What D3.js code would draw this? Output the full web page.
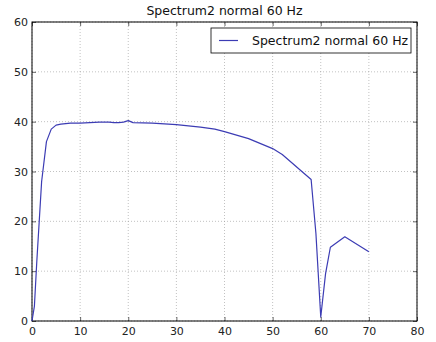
<!DOCTYPE html>
<html>
<head>
<meta charset="utf-8">
<script src="https://cdn.jsdelivr.net/npm/d3@7"></script>
<style>
  html, body { margin: 0; padding: 0; background: #fff; }
  svg { display: block; font-family: "DejaVu Sans", sans-serif; }
</style>
</head>
<body>
<svg id="chart" width="436" height="342"></svg>
<script>
// Spectrum data: frequency (Hz) and magnitude
const freq = [0, 0.5, 1, 2, 3, 4, 5, 6, 8, 10, 12, 14, 16, 17, 18, 19, 20, 21, 25, 30, 35, 38, 40, 45, 50, 52, 58, 59, 60, 61, 62, 65, 70];
const magnitude = [0, 3, 12, 28, 36, 38.5, 39.3, 39.5, 39.7, 39.7, 39.8, 39.9, 39.9, 39.8, 39.8, 39.9, 40.2, 39.8, 39.7, 39.4, 38.9, 38.5, 38.0, 36.6, 34.6, 33.4, 28.4, 17.5, 0.8, 9.5, 14.8, 16.9, 13.9];

const xTicks = [0, 10, 20, 30, 40, 50, 60, 70, 80];
const yTicks = [0, 10, 20, 30, 40, 50, 60];
const title = "Spectrum2 normal 60 Hz";
const seriesName = "Spectrum2 normal 60 Hz";

const margin = { left: 32, right: 19, top: 22, bottom: 21 };
const W = 436, H = 342;
const svg = d3.select("#chart");

const x = d3.scaleLinear().domain([0, 80]).range([margin.left, W - margin.right]);
const y = d3.scaleLinear().domain([0, 60]).range([H - margin.bottom, margin.top]);

const lineColor = "#3c3cb4";

// grid
const grid = svg.append("g");
grid.selectAll("line.gx").data(xTicks).join("line")
  .attr("x1", d => x(d)).attr("x2", d => x(d))
  .attr("y1", y(0)).attr("y2", y(60))
  .attr("stroke", "#999").attr("stroke-width", 0.6).attr("stroke-dasharray", "1,2");
grid.selectAll("line.gy").data(yTicks).join("line")
  .attr("y1", d => y(d)).attr("y2", d => y(d))
  .attr("x1", x(0)).attr("x2", x(80))
  .attr("stroke", "#999").attr("stroke-width", 0.6).attr("stroke-dasharray", "1,2");

// axes with inward ticks
const fmt = d3.format("d");
const xb = svg.append("g").attr("transform", `translate(0,${y(0)})`)
  .call(d3.axisBottom(x).tickValues(xTicks).tickFormat(fmt).tickSizeInner(-4).tickSizeOuter(0).tickPadding(6));
const xt = svg.append("g").attr("transform", `translate(0,${y(60)})`)
  .call(d3.axisTop(x).tickValues(xTicks).tickFormat("").tickSizeInner(-4).tickSizeOuter(0));
const yl = svg.append("g").attr("transform", `translate(${x(0)},0)`)
  .call(d3.axisLeft(y).tickValues(yTicks).tickFormat(fmt).tickSizeInner(-4).tickSizeOuter(0).tickPadding(4));
const yr = svg.append("g").attr("transform", `translate(${x(80)},0)`)
  .call(d3.axisRight(y).tickValues(yTicks).tickFormat("").tickSizeInner(-4).tickSizeOuter(0));
[xb, xt, yl, yr].forEach(g => {
  g.select(".domain").remove();
  g.selectAll("line").attr("stroke", "#000").attr("stroke-width", 0.6);
  g.selectAll("text").attr("font-family", "DejaVu Sans, sans-serif").attr("font-size", 11).attr("fill", "#222");
});

// frame
svg.append("rect")
  .attr("x", x(0)).attr("y", y(60))
  .attr("width", x(80) - x(0)).attr("height", y(0) - y(60))
  .attr("fill", "none").attr("stroke", "#000").attr("stroke-width", 1);

// series
const line = d3.line().x((d, i) => x(freq[i])).y(d => y(d));
svg.append("path").datum(magnitude)
  .attr("d", line)
  .attr("fill", "none").attr("stroke", lineColor).attr("stroke-width", 1.2)
  .attr("stroke-linejoin", "round");

// title
svg.append("text").attr("x", (x(0) + x(80)) / 2).attr("y", 15)
  .attr("text-anchor", "middle").attr("font-size", 12.5).attr("fill", "#111").text(title);

// legend
const lg = svg.append("g");
lg.append("rect").attr("x", 211).attr("y", 28).attr("width", 200).attr("height", 25)
  .attr("fill", "#fff").attr("stroke", "#000").attr("stroke-width", 0.8);
lg.append("line").attr("x1", 219).attr("x2", 238).attr("y1", 40.5).attr("y2", 40.5)
  .attr("stroke", lineColor).attr("stroke-width", 1.2);
lg.append("text").attr("x", 252).attr("y", 45).attr("font-size", 12.5).attr("fill", "#111").text(seriesName);
</script>
</body>
</html>
